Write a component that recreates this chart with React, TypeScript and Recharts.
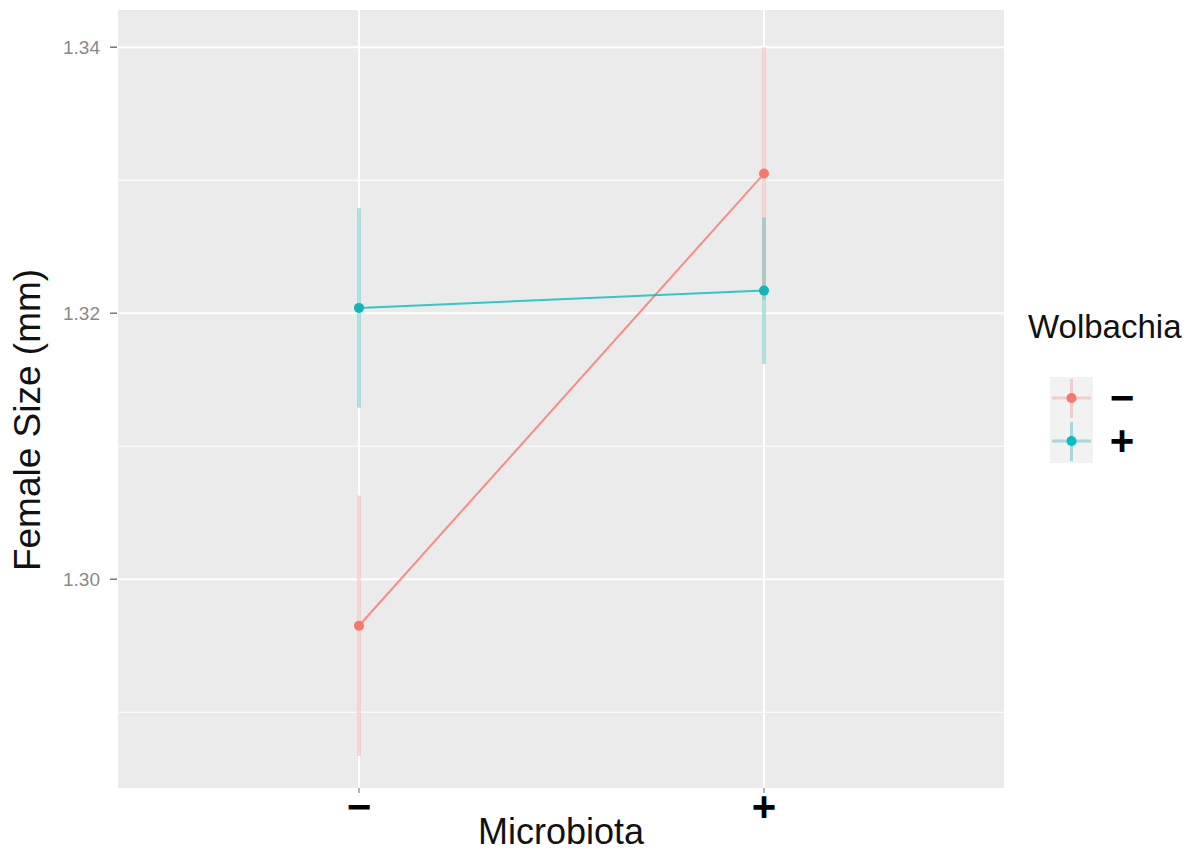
import * as React from "react";
import {
  ComposedChart,
  Line,
  ErrorBar,
  XAxis,
  YAxis,
  CartesianGrid,
  Label,
} from "recharts";

// Microbiota levels on the x axis, Wolbachia groups as series
const MICROBIOTA = ["−", "+"];
const WOLBACHIA = ["−", "+"];

// mean female size (mm) and half-width of the error bar
const WOL_NEG_MEAN = [1.2965, 1.3305];
const WOL_NEG_ERR = [0.0098, 0.0095];
const WOL_POS_MEAN = [1.3204, 1.3217];
const WOL_POS_ERR = [0.0075, 0.0055];

const Y_TICKS = [1.3, 1.32, 1.34];
const Y_MINOR = [1.29, 1.31, 1.33];

const COLORS = ["#F8766D", "#00BFC4"];
const BAR_COLORS = ["rgba(240,120,110,0.3)", "rgba(20,170,175,0.35)"];
const FONT = "'Liberation Sans', Arial, sans-serif";

const data = MICROBIOTA.map((m, i) => ({
  micro: m,
  neg: WOL_NEG_MEAN[i],
  negErr: WOL_NEG_ERR[i],
  pos: WOL_POS_MEAN[i],
  posErr: WOL_POS_ERR[i],
}));

function XTick(props: any) {
  const { x, y, payload } = props;
  return (
    <text
      x={x}
      y={y + 26}
      textAnchor="middle"
      fontFamily={FONT}
      fontWeight="bold"
      fontSize={42}
      fill="#000"
    >
      {payload.value}
    </text>
  );
}

function YTick(props: any) {
  const { x, y, payload } = props;
  return (
    <text
      x={x - 6}
      y={y + 7}
      textAnchor="end"
      fontFamily={FONT}
      fontSize={19}
      fill="#8A8A8A"
    >
      {payload.value.toFixed(2)}
    </text>
  );
}

function Legend() {
  return (
    <div style={{ position: "absolute", left: 1022, top: 308, fontFamily: FONT }}>
      <div style={{ fontSize: 33, color: "#111", marginLeft: 6 }}>Wolbachia</div>
      <svg width={130} height={100} style={{ display: "block", marginTop: 29 }}>
        {WOLBACHIA.map((w, i) => {
          const top = 2 + i * 43;
          const cy = top + 21;
          return (
            <g key={i}>
              <rect x={28} y={top} width={43} height={43} fill="#F2F2F2" />
              <line x1={30} x2={69} y1={cy} y2={cy} stroke={BAR_COLORS[i]} strokeWidth={3} />
              <line x1={49.5} x2={49.5} y1={top + 2} y2={top + 41} stroke={BAR_COLORS[i]} strokeWidth={3} />
              <circle cx={49.5} cy={cy} r={5} fill={COLORS[i]} />
              <text
                x={100}
                y={cy + 14}
                textAnchor="middle"
                fontWeight="bold"
                fontSize={42}
                fill="#000"
              >
                {w}
              </text>
            </g>
          );
        })}
      </svg>
    </div>
  );
}

export default function App() {
  return (
    <div style={{ position: "fixed", left: 0, top: 0, width: 1192, height: 855, background: "#fff" }}>
      <ComposedChart
        width={1192}
        height={855}
        data={data}
        margin={{ top: 10, right: 187, bottom: 0, left: 0 }}
      >
        <CartesianGrid
          fill="#EBEBEB"
          stroke="#FFFFFF"
          strokeWidth={1}
          vertical={false}
          horizontalValues={Y_MINOR}
        />
        <CartesianGrid
          stroke="#FFFFFF"
          strokeWidth={2}
          horizontalValues={Y_TICKS}
        />
        <XAxis
          dataKey="micro"
          height={67}
          padding={{ left: 242, right: 241 }}
          axisLine={false}
          tickLine={{ stroke: "#666" }}
          tickSize={5}
          tick={<XTick />}
          interval={0}
        >
          <Label
            content={() => (
              <text
                x={561}
                y={844}
                textAnchor="middle"
                fontFamily={FONT}
                fontSize={36}
                fill="#111"
              >
                Microbiota
              </text>
            )}
          />
        </XAxis>
        <YAxis
          width={117}
          domain={[1.2843, 1.3428]}
          ticks={Y_TICKS}
          allowDataOverflow
          axisLine={false}
          tickLine={{ stroke: "#777", strokeWidth: 1.5 }}
          tickSize={7}
          tickMargin={4}
          tick={<YTick />}
        >
          <Label
            content={() => (
              <text
                transform="translate(40,420) rotate(-90)"
                textAnchor="middle"
                fontFamily={FONT}
                fontSize={37}
                fill="#111"
              >
                Female Size (mm)
              </text>
            )}
          />
        </YAxis>
        <Line
          dataKey="neg"
          stroke={COLORS[0]}
          strokeOpacity={0.8}
          strokeWidth={2}
          dot={{ r: 5, fill: COLORS[0], stroke: "none", fillOpacity: 1 }}
          isAnimationActive={false}
        >
          <ErrorBar
            dataKey="negErr"
            direction="y"
            width={0}
            stroke={BAR_COLORS[0]}
            strokeWidth={3.5}
            isAnimationActive={false}
          />
        </Line>
        <Line
          dataKey="pos"
          stroke={COLORS[1]}
          strokeOpacity={0.8}
          strokeWidth={2}
          dot={{ r: 5, fill: "#10B5B8", stroke: "none", fillOpacity: 1 }}
          isAnimationActive={false}
        >
          <ErrorBar
            dataKey="posErr"
            direction="y"
            width={0}
            stroke={BAR_COLORS[1]}
            strokeWidth={3.5}
            isAnimationActive={false}
          />
        </Line>
      </ComposedChart>
      <Legend />
    </div>
  );
}
